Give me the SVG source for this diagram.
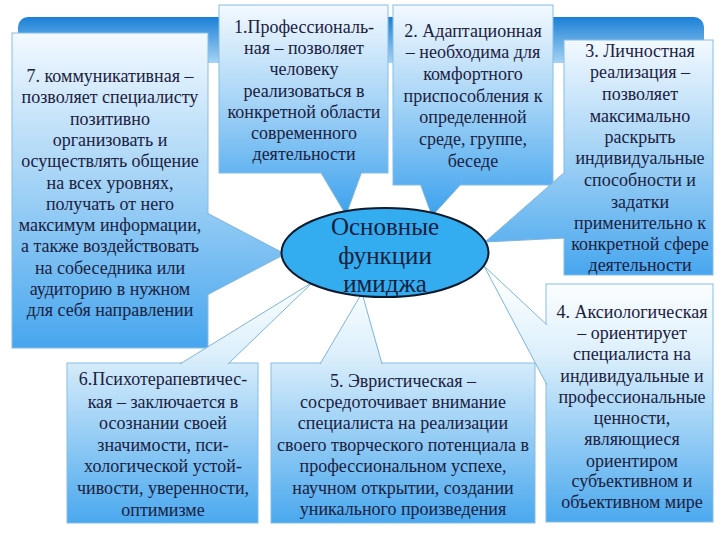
<svg xmlns="http://www.w3.org/2000/svg" width="720" height="540" viewBox="0 0 720 540">
<defs>
<style>
.t{font-family:"Liberation Serif","Times New Roman",serif;font-size:18px;fill:#1b2140;text-anchor:middle}
.c{font-family:"Liberation Serif","Times New Roman",serif;font-size:25px;fill:#17203c;text-anchor:middle}
.box{stroke:#86bde6;stroke-width:1}
.ptr{stroke:#7cb4de;stroke-width:1}
</style>
<linearGradient id="gBan" x1="0" y1="0" x2="0" y2="1">
<stop offset="0" stop-color="#1a80d6"/><stop offset="1" stop-color="#a6d3f4"/>
</linearGradient>
<linearGradient id="g7" gradientUnits="userSpaceOnUse" x1="0" y1="33" x2="0" y2="348">
<stop offset="0" stop-color="#f3f9ff"/><stop offset="0.45" stop-color="#a8d5f6"/><stop offset="1" stop-color="#47a6ee"/>
</linearGradient>
<linearGradient id="g1" gradientUnits="userSpaceOnUse" x1="0" y1="5" x2="0" y2="214">
<stop offset="0" stop-color="#f3f9ff"/><stop offset="0.45" stop-color="#a8d5f6"/><stop offset="1" stop-color="#3ea2ee"/>
</linearGradient>
<linearGradient id="g3" gradientUnits="userSpaceOnUse" x1="0" y1="40" x2="0" y2="275">
<stop offset="0" stop-color="#f3f9ff"/><stop offset="0.45" stop-color="#a8d5f6"/><stop offset="1" stop-color="#47a6ee"/>
</linearGradient>
<linearGradient id="gLow" gradientUnits="userSpaceOnUse" x1="0" y1="283" x2="0" y2="523">
<stop offset="0" stop-color="#fcfeff"/><stop offset="0.3" stop-color="#dceffb"/><stop offset="1" stop-color="#4aa8ee"/>
</linearGradient>
</defs>
<rect width="720" height="540" fill="#ffffff"/>
<rect x="18" y="17" width="686" height="46" rx="10" fill="url(#gBan)"/>

<g id="n7"><rect class="box" x="12" y="33" width="196" height="315" fill="url(#g7)"/>
<text class="t"><tspan x="110" y="82">7. коммуникативная –</tspan><tspan x="110" y="103">позволяет специалисту</tspan><tspan x="110" y="125">позитивно</tspan><tspan x="110" y="146">организовать и</tspan><tspan x="110" y="167">осуществлять общение</tspan><tspan x="110" y="189">на всех уровнях,</tspan><tspan x="110" y="210">получать от него</tspan><tspan x="110" y="231">максимум информации,</tspan><tspan x="110" y="252">а также воздействовать</tspan><tspan x="110" y="274">на собеседника или</tspan><tspan x="110" y="295">аудиторию в нужном</tspan><tspan x="110" y="316">для себя направлении</tspan></text></g>

<g id="n1"><rect class="box" x="219" y="5" width="169" height="168" fill="url(#g1)"/>
<text class="t"><tspan x="304" y="33">1.Профессиональ-</tspan><tspan x="304" y="54">ная – позволяет</tspan><tspan x="304" y="75">человеку</tspan><tspan x="304" y="97">реализоваться в</tspan><tspan x="304" y="118">конкретной области</tspan><tspan x="304" y="139">современного</tspan><tspan x="304" y="160">деятельности</tspan></text></g>

<g id="n2"><rect class="box" x="393" y="5" width="160" height="180" fill="url(#g1)"/>
<text class="t"><tspan x="473" y="37">2. Адаптационная</tspan><tspan x="473" y="58">– необходима для</tspan><tspan x="473" y="80">комфортного</tspan><tspan x="473" y="102">приспособления к</tspan><tspan x="473" y="123">определенной</tspan><tspan x="473" y="145">среде, группе,</tspan><tspan x="473" y="167">беседе</tspan></text></g>

<g id="n3"><rect class="box" x="564" y="40" width="149" height="235" fill="url(#g3)"/>
<text class="t"><tspan x="640" y="57">3. Личностная</tspan><tspan x="640" y="78">реализация –</tspan><tspan x="640" y="100">позволяет</tspan><tspan x="640" y="122">максимально</tspan><tspan x="640" y="143">раскрыть</tspan><tspan x="640" y="164">индивидуальные</tspan><tspan x="640" y="186">способности и</tspan><tspan x="640" y="208">задатки</tspan><tspan x="640" y="229">применительно к</tspan><tspan x="640" y="250">конкретной сфере</tspan><tspan x="640" y="271">деятельности</tspan></text></g>

<g id="n4"><rect class="box" x="546" y="284" width="167" height="238" fill="url(#gLow)"/>
<text class="t"><tspan x="632" y="318">4. Аксиологическая</tspan><tspan x="632" y="339">– ориентирует</tspan><tspan x="632" y="360">специалиста на</tspan><tspan x="632" y="382">индивидуальные и</tspan><tspan x="632" y="403">профессиональные</tspan><tspan x="632" y="424">ценности,</tspan><tspan x="632" y="445">являющиеся</tspan><tspan x="632" y="467">ориентиром</tspan><tspan x="632" y="487">субъективном и</tspan><tspan x="632" y="508">объективном мире</tspan></text></g>

<g id="n5"><rect class="box" x="271" y="363" width="264" height="160" fill="url(#gLow)"/>
<text class="t"><tspan x="403" y="387">5. Эвристическая –</tspan><tspan x="403" y="408">сосредоточивает внимание</tspan><tspan x="403" y="429">специалиста на реализации</tspan><tspan x="403" y="451">своего творческого потенциала в</tspan><tspan x="403" y="472">профессиональном успехе,</tspan><tspan x="403" y="494">научном открытии, создании</tspan><tspan x="403" y="515">уникального произведения</tspan></text></g>

<g id="n6"><rect class="box" x="67" y="363" width="191" height="160" fill="url(#gLow)"/>
<text class="t"><tspan x="163" y="385">6.Психотерапевтичес-</tspan><tspan x="163" y="408">кая – заключается в</tspan><tspan x="163" y="429">осознании своей</tspan><tspan x="163" y="451">значимости, пси-</tspan><tspan x="163" y="472">хологической устой-</tspan><tspan x="163" y="494">чивости, уверенности,</tspan><tspan x="163" y="516">оптимизме</tspan></text></g>

<g id="connectors">
<path class="ptr" d="M207,213 L285,254 L207,295" fill="url(#g7)"/>
<path class="ptr" d="M320,171 L346,215 L362,171" fill="url(#g1)"/>
<path class="ptr" d="M420,183 L432,216 L462,183" fill="url(#g1)"/>
<path class="ptr" d="M565,172 L485,242 L565,238" fill="url(#g3)"/>
<path class="ptr" d="M547,325 L484,266 L547,385" fill="url(#gLow)"/>
<path class="ptr" d="M320,364 L362,293 L382,364" fill="url(#gLow)"/>
<path class="ptr" d="M180,364 L313,282 L228,364" fill="url(#gLow)"/>
</g>

<g id="center">
<ellipse cx="385" cy="252.5" rx="103.5" ry="44.5" fill="#33adf0" stroke="#0c1a2c" stroke-width="2"/>
<text class="c"><tspan x="385" y="235">Основные</tspan><tspan x="385" y="264">функции</tspan><tspan x="385" y="292">имиджа</tspan></text>
</g>
</svg>
